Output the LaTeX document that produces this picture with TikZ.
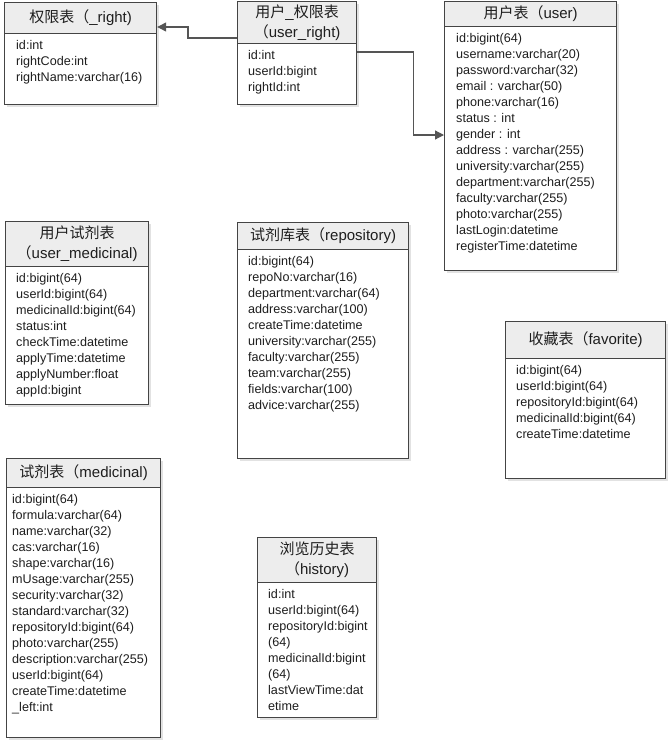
\documentclass[tikz,border=0pt]{standalone}
\usepackage{fontspec}
\setmainfont{Liberation Sans}
\newfontfamily\cjk{Noto Sans CJK SC}
\usetikzlibrary{arrows.meta,calc}

\definecolor{bordercol}{HTML}{444444}
\definecolor{headfill}{HTML}{EDEDED}
\definecolor{shadowcol}{HTML}{E2E2E2}
\definecolor{inkcol}{HTML}{1E1E1E}
\definecolor{linkcol}{HTML}{555555}

\tikzset{
  tablebox/.style={draw=bordercol, line width=1.2pt, fill=white, inner sep=0pt,
    anchor=north west},
  headbox/.style={draw=bordercol, line width=1.2pt, fill=headfill, inner sep=0pt,
    anchor=north west},
  headtext/.style={inner sep=0pt, align=center, text=inkcol,
    font=\fontsize{15}{20}\selectfont},
  fieldtext/.style={inner sep=0pt, anchor=base west, text=inkcol,
    font=\fontsize{12.6}{16}\selectfont},
  link/.style={draw=linkcol, line width=1.2pt,
    -{Triangle[length=9pt,width=9pt]}},
}

% #1 name, #2 left, #3 top, #4 right, #5 header bottom, #6 bottom,
% #7 title, #8 fields, #9 field indent
\newcommand\dbtable[9]{%
  \fill[shadowcol] (#2+3,#3+3) rectangle (#4+3,#6+3);
  \node[tablebox, minimum width=#4pt-#2pt, minimum height=#6pt-#3pt] (#1) at (#2,#3) {};
  \node[headbox, minimum width=#4pt-#2pt, minimum height=#5pt-#3pt] (#1-head) at (#2,#3) {};
  \node[headtext] (#1-title) at (#1-head.center) {#7};
  \foreach \fld [count=\i from 0] in {#8}
    \node[fieldtext] (#1-f\i) at (#2+#9, #5+16+16*\i) {\fld};
}

\begin{document}
\begin{tikzpicture}[x=1pt, y=-1pt]
\useasboundingbox (0,0) rectangle (668,742);

\dbtable{rt}{4}{2}{156}{33}{104}
  {{\cjk 权限表（}\_right)}
  {id:int, rightCode:int, rightName:varchar(16)}{12}

\dbtable{ur}{237}{1}{356}{43}{104}
  {{\cjk 用户}\_{\cjk 权限表}\\{\cjk （}user\_right)}
  {id:int, userId:bigint, rightId:int}{11}

\dbtable{us}{444}{1}{616}{26}{270}
  {{\cjk 用户表（}user)}
  {id:bigint(64), username:varchar(20), password:varchar(32), email : varchar(50),
   phone:varchar(16), status : int, gender : int, address : varchar(255),
   university:varchar(255), department:varchar(255), faculty:varchar(255),
   photo:varchar(255), lastLogin:datetime, registerTime:datetime}{12}

\dbtable{um}{5}{221}{148}{266}{404}
  {{\cjk 用户试剂表}\\{\cjk （}user\_medicinal)}
  {id:bigint(64), userId:bigint(64), medicinalId:bigint(64), status:int,
   checkTime:datetime, applyTime:datetime, applyNumber:float, appId:bigint}{11}

\dbtable{repo}{237}{222}{408}{249}{458}
  {{\cjk 试剂库表（}repository)}
  {id:bigint(64), repoNo:varchar(16), department:varchar(64), address:varchar(100),
   createTime:datetime, university:varchar(255), faculty:varchar(255),
   team:varchar(255), fields:varchar(100), advice:varchar(255)}{11}

\dbtable{fav}{505}{321}{665}{358}{478}
  {{\cjk 收藏表（}favorite)}
  {id:bigint(64), userId:bigint(64), repositoryId:bigint(64), medicinalId:bigint(64),
   createTime:datetime}{11}

\dbtable{med}{6}{458}{160}{487}{737}
  {{\cjk 试剂表（}medicinal)}
  {id:bigint(64), formula:varchar(64), name:varchar(32), cas:varchar(16),
   shape:varchar(16), mUsage:varchar(255), security:varchar(32), standard:varchar(32),
   repositoryId:bigint(64), photo:varchar(255), description:varchar(255),
   userId:bigint(64), createTime:datetime, \_left:int}{6}

\dbtable{hist}{257}{537}{376}{582}{717}
  {{\cjk 浏览历史表}\\{\cjk （}history)}
  {id:int, userId:bigint(64), repositoryId:bigint, (64), medicinalId:bigint, (64),
   lastViewTime:dat, etime}{11}

% foreign-key links
\coordinate (yA) at (0,38);
\coordinate (yB) at (0,27);
\coordinate (yC) at (0,52);
\coordinate (yD) at (0,135);
\draw[link] (ur.west |- yA) -- ++(-49,0) |- (rt.east |- yB);
\draw[link] (ur.east |- yC) -- ++(56,0) |- (us.west |- yD);

\end{tikzpicture}
\end{document}
